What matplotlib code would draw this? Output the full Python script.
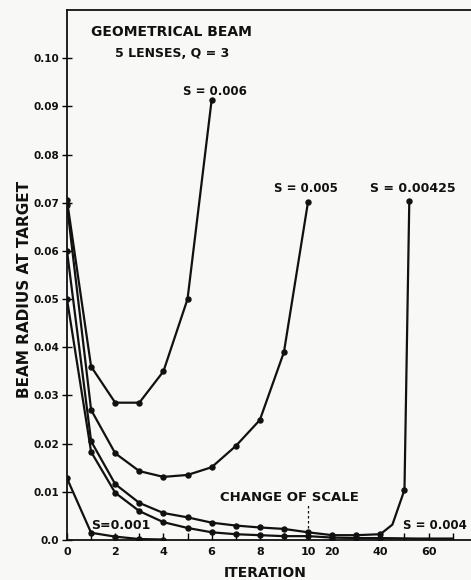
import numpy as np
import matplotlib
matplotlib.use("Agg")
import matplotlib.pyplot as plt

# ------------------------------------------------------------
# data (beam radius vs iteration)
# ------------------------------------------------------------
it_006 = [0, 1, 2, 3, 4, 5, 6]
r_006 = [0.0705, 0.0360, 0.0285, 0.0285, 0.0350, 0.0500, 0.0913]

it_005 = [0, 1, 2, 3, 4, 5, 6, 7, 8, 9, 10]
r_005 = [0.0695, 0.0270, 0.0180, 0.0143, 0.0131, 0.0135, 0.0151, 0.0195, 0.0249, 0.0390, 0.0702]

it_00425 = [0, 1, 2, 3, 4, 5, 6, 7, 8, 9, 10, 20, 30, 40, 45, 50, 52]
r_00425 = [0.0600, 0.0205, 0.0116, 0.0077, 0.0056, 0.0047, 0.0036, 0.0030, 0.0026, 0.0023, 0.0016,
           0.0010, 0.0010, 0.0012, 0.0032, 0.0104, 0.0703]
mark_00425 = [0, 1, 2, 3, 4, 5, 6, 7, 8, 9, 10, 11, 12, 13, 15, 16]

it_004 = [0, 1, 2, 3, 4, 5, 6, 7, 8, 9, 10, 20, 30, 40, 55, 70]
r_004 = [0.0500, 0.0183, 0.0098, 0.0060, 0.0037, 0.0025, 0.0016, 0.0012, 0.0010, 0.0008, 0.0008,
         0.0005, 0.0004, 0.0004, 0.0003, 0.0003]
mark_004 = list(range(14))

it_001 = [0, 1, 2, 3, 4]
r_001 = [0.0128, 0.0015, 0.0007, 0.0002, 0.0001]

y_ticks = [0.0, 0.01, 0.02, 0.03, 0.04, 0.05, 0.06, 0.07, 0.08, 0.09, 0.10]
y_labels = ["0.0", "0.01", "0.02", "0.03", "0.04", "0.05", "0.06", "0.07", "0.08", "0.09", "0.10"]
x_major = [0, 2, 4, 6, 8, 10, 20, 40, 60]
x_labels = ["0", "2", "4", "6", "8", "10", "20", "40", "60"]
x_minor = [1, 3, 5, 7, 9, 30, 50, 70]


# change of scale at iteration 10: ten times compressed beyond it
def fwd(x):
    x = np.asarray(x, dtype=float)
    return np.where(x <= 10, x, 10 + (x - 10) / 10.0)


def inv(p):
    p = np.asarray(p, dtype=float)
    return np.where(p <= 10, p, 10 + (p - 10) * 10.0)


W, H = 471, 580
fig = plt.figure(figsize=(W / 100, H / 100), dpi=100, facecolor="#f8f8f6")
ax = fig.add_axes([67 / W, 40 / H, 1 - 67 / W, 530 / H])
ax.set_facecolor("#f8f8f6")
ax.set_xscale("function", functions=(fwd, inv))
ax.set_xlim(0, 77.6)
ax.set_ylim(0, 0.11)

ink = "#111111"
kw = dict(color=ink, lw=1.6, marker="o", ms=3.6, mfc=ink, mec=ink, solid_capstyle="round")
ax.plot(it_006, r_006, **kw)
ax.plot(it_005, r_005, **kw)
ax.plot(it_00425, r_00425, markevery=mark_00425, **kw)
ax.plot(it_004, r_004, markevery=mark_004, **kw)
ax.plot(it_001, r_001, **kw)

ax.spines["right"].set_visible(False)
for s in ["left", "bottom", "top"]:
    ax.spines[s].set_linewidth(1.3)
    ax.spines[s].set_color(ink)

font = dict(family="DejaVu Sans", weight="bold", color=ink)

ax.set_yticks(y_ticks)
ax.set_yticklabels(y_labels, fontsize=7.5, **font)
ax.tick_params(axis="y", direction="inout", length=7, width=1.0, pad=2)
ax.set_xticks(x_major)
ax.set_xticklabels(x_labels, fontsize=8, **font)
ax.set_xticks(x_minor, minor=True)
ax.tick_params(axis="x", which="both", direction="in", length=5, width=1.0, pad=5)

ax.set_ylabel("BEAM RADIUS AT TARGET", fontsize=11, **font)
ax.yaxis.set_label_coords(-35 / 404, 251 / 530)
ax.set_xlabel("ITERATION", fontsize=10, **font)
ax.xaxis.set_label_coords((265 - 67) / (W - 67), -26 / 530)

ax.text(4.35, 0.1054, "GEOMETRICAL BEAM", fontsize=10, ha="center", va="center", **font)
ax.text(4.35, 0.1010, "5 LENSES, Q = 3", fontsize=9, ha="center", va="center",
        family="DejaVu Sans", weight="semibold", color=ink)
ax.text(6.14, 0.0930, "S = 0.006", fontsize=8.5, ha="center", va="center", **font)
ax.text(9.9, 0.0730, "S = 0.005", fontsize=8.5, ha="center", va="center", **font)
ax.text(53.5, 0.0730, "S = 0.00425", fontsize=9, ha="center", va="center", **font)
ax.text(6.35, 0.0089, "CHANGE OF SCALE", fontsize=9.5, ha="left", va="center", **font)
ax.text(1.0, 0.0031, "S=0.001", fontsize=9, ha="left", va="center", **font)
ax.text(49.4, 0.0031, "S = 0.004", fontsize=8.5, ha="left", va="center", **font)
ax.plot([10, 10], [0.0025, 0.0072], color=ink, lw=0.9, ls=(0, (2, 2)))

fig.savefig("out.png", dpi=100, facecolor=fig.get_facecolor())
